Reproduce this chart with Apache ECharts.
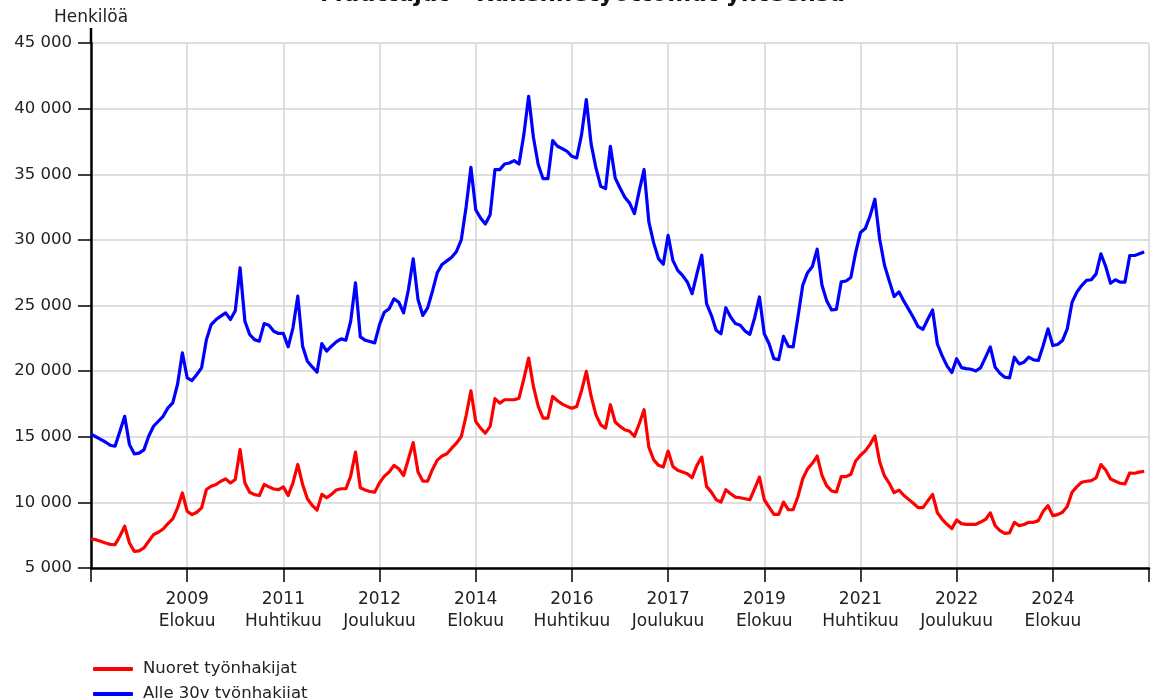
<!DOCTYPE html>
<html><head><meta charset="utf-8">
<script src="https://cdn.jsdelivr.net/npm/echarts@6/dist/echarts.min.js"></script>
<style>html,body{margin:0;padding:0;background:#fff}#c{width:1153px;height:698px}</style>
</head><body><div id="c"></div>
<script>
const FONT = 'DejaVu Sans';
const titleText = 'Muuttujat – Rakennetyöttömat yhteensä';
const yAxisName = 'Henkilöä';
const seriesNames = ['Nuoret työnhakijat', 'Alle 30v työnhakijat'];
const monthNames = ['Tammikuu','Helmikuu','Maaliskuu','Huhtikuu','Toukokuu','Kesäkuu','Heinäkuu','Elokuu','Syyskuu','Lokakuu','Marraskuu','Joulukuu'];
const startYear = 2007, startMonthIndex = 11; // joulukuu 2007
const monthCount = 221;
const labelStep = 20;
const categories = [];
for (let i = 0; i < monthCount; i++) {
  const t = startYear * 12 + startMonthIndex + i;
  categories.push(Math.floor(t / 12) + '\n' + monthNames[t % 12]);
}

// Nuoret työnhakijat (punainen)
const nuoret = [
  7210,7160,7030,6900,6800,6780,7420,8180,6900,6270,6300,6530,7040,7540,7720,7970,8380,8740,9580,10720,
  9320,9070,9250,9580,10980,11230,11360,11610,11790,11480,11740,14020,11480,10770,10590,10520,11360,11180,11020,10970,
  11180,10520,11500,12890,11370,10280,9770,9410,10610,10350,10610,10940,11040,11040,12000,13830,11110,10940,10830,10780,
  11490,12000,12310,12820,12560,12050,13300,14550,12310,11620,11620,12510,13220,13530,13700,14130,14510,15020,16600,18500,
  16170,15660,15280,15790,17900,17560,17820,17820,17820,17940,19400,20990,18830,17310,16420,16420,18070,17740,17490,17310,
  17180,17310,18500,19980,18070,16670,15910,15660,17440,16120,15790,15530,15420,15030,15990,17060,14210,13250,12820,12690,
  13910,12740,12440,12310,12180,11880,12820,13450,11220,10780,10200,10020,10960,10660,10400,10350,10280,10200,11040,11930,
  10200,9640,9080,9080,10020,9440,9440,10450,11800,12550,12980,13530,12060,11250,10870,10790,11960,11960,12140,13150,
  13590,13920,14420,15060,13080,12010,11450,10740,10940,10540,10230,9930,9600,9600,10110,10610,9210,8710,8330,8000,
  8660,8380,8330,8330,8330,8500,8700,9200,8230,7850,7640,7670,8480,8230,8310,8480,8480,8610,9320,9750,
  8990,9070,9250,9680,10770,11200,11530,11610,11660,11860,12880,12470,11790,11610,11460,11410,12240,12220,12300,12370
];

// Alle 30v työnhakijat (sininen)
const alle30 = [
  15200,15000,14800,14600,14350,14280,15400,16560,14400,13700,13750,14000,15040,15800,16180,16560,17200,17580,19000,21390,
  19490,19280,19740,20250,22400,23550,23930,24190,24440,23930,24600,27870,23800,22790,22400,22280,23620,23500,23040,22870,
  22870,21850,23300,25710,21900,20760,20320,19920,22100,21520,21900,22230,22460,22360,23800,26730,22610,22360,22260,22150,
  23550,24490,24750,25510,25250,24440,26200,28560,25460,24240,24820,26090,27490,28130,28400,28670,29120,30010,32500,35530,
  32300,31670,31210,31920,35350,35350,35780,35860,36040,35780,38000,40940,37800,35730,34660,34660,37560,37130,36950,36750,
  36370,36240,38000,40690,37300,35480,34080,33900,37130,34710,33950,33240,32800,32000,33730,35360,31370,29770,28570,28140,
  30350,28440,27680,27300,26790,25900,27430,28830,25140,24250,23110,22850,24830,24120,23620,23490,23060,22800,24070,25650,
  22850,22090,20950,20870,22650,21890,21840,24120,26540,27500,27970,29290,26540,25350,24660,24710,26800,26870,27130,29030,
  30560,30860,31830,33100,30050,28070,26870,25680,26040,25350,24720,24080,23390,23190,23950,24660,22050,21160,20400,19890,
  20950,20270,20190,20140,20010,20270,21050,21850,20300,19840,19540,19490,21060,20550,20680,21060,20860,20810,21950,23220,
  21950,22030,22330,23220,25250,26020,26520,26910,26960,27410,28940,27970,26700,26960,26780,26780,28810,28810,28940,29070
];

const yMin = 5000, yMax = 45000, yStep = 5000;

function fmtThousands(v) {
  return String(v).replace(/\B(?=(\d{3})+(?!\d))/g, ' ');
}

const legendBase = {
  orient: 'vertical', left: 88,
  itemWidth: 40, itemHeight: 4,
  icon: 'roundRect',
  textStyle: {fontFamily: FONT, fontSize: 16.5, color: '#222', lineHeight: 20, padding: [0, 0, 0, 5]}
};

const chart = echarts.init(document.getElementById('c'), null, {renderer: 'canvas'});
chart.setOption({
  animation: false,
  backgroundColor: '#ffffff',
  textStyle: {fontFamily: FONT},
  title: {
    text: titleText,
    left: 320, top: -16, padding: 0,
    textStyle: {fontFamily: FONT, fontSize: 23, fontWeight: 'bold', color: '#111'}
  },
  grid: {left: 91, right: 4, top: 43, bottom: 130, containLabel: false},
  legend: [
    Object.assign({}, legendBase, {top: 654, data: [seriesNames[0]]}),
    Object.assign({}, legendBase, {top: 679, data: [seriesNames[1]]})
  ],
  xAxis: {
    type: 'category',
    data: categories,
    boundaryGap: false,
    axisLine: {lineStyle: {color: '#000', width: 2.5}},
    axisTick: {
      interval: (i) => i % labelStep === 0,
      length: 14,
      lineStyle: {color: '#000', width: 1.5}
    },
    axisLabel: {
      interval: (i) => i % labelStep === 0 && i > 0 && i < monthCount - 1,
      margin: 21, fontSize: 17, lineHeight: 22, color: '#222', fontFamily: FONT
    },
    splitLine: {
      show: true,
      interval: (i) => i % labelStep === 0,
      lineStyle: {color: '#d4d4d4', width: 1.5}
    }
  },
  yAxis: {
    type: 'value',
    min: yMin, max: yMax, interval: yStep,
    name: yAxisName,
    nameLocation: 'end',
    nameGap: 17,
    nameTextStyle: {fontFamily: FONT, fontSize: 17, color: '#222', align: 'center'},
    axisLine: {show: true, lineStyle: {color: '#000', width: 2.5}},
    axisTick: {show: true, length: 13, lineStyle: {color: '#000', width: 1.5}},
    axisLabel: {margin: 19, fontSize: 16.5, color: '#222', fontFamily: FONT, formatter: fmtThousands},
    splitLine: {lineStyle: {color: '#d4d4d4', width: 1.5}}
  },
  graphic: [{
    type: 'line', silent: true,
    shape: {x1: 91, y1: 28, x2: 91, y2: 43},
    style: {stroke: '#000', lineWidth: 2.5}
  }],
  series: [
    {name: seriesNames[0], type: 'line', data: nuoret, symbol: 'none', color: '#ff0000',
     lineStyle: {color: '#ff0000', width: 3.2, join: 'round'}},
    {name: seriesNames[1], type: 'line', data: alle30, symbol: 'none', color: '#0000ff',
     lineStyle: {color: '#0000ff', width: 3.2, join: 'round'}}
  ]
});
</script>
</body></html>
